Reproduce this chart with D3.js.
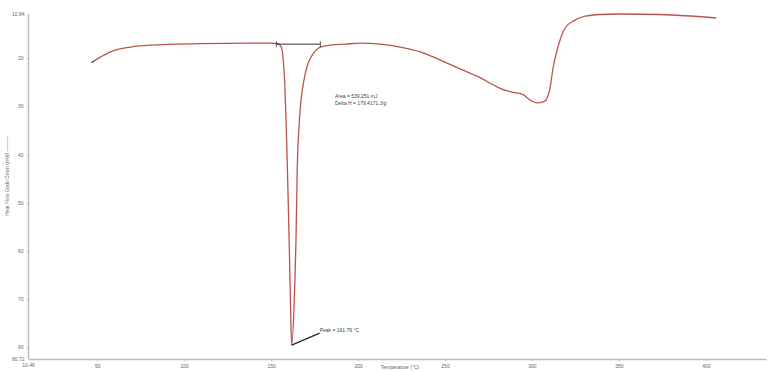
<html lang="en">
<head>
    <meta charset="utf-8">
    <title>DSC curve</title>
    <style>
        body { margin: 0; background: white; }
        svg { display: block; font-family: "Liberation Sans", Arial, sans-serif; }
        .axis path, .axis line { stroke: #bbb; }
        .axis text { fill: #666; font-size: 5px; }
    </style>
</head>
<body>
<svg id="chart" width="768" height="371"></svg>
<script src="https://d3js.org/d3.v7.min.js"></script>
<script>
    // temperature (°C) and heat flow (mW)
    const temps = [47.2, 51.8, 57.6, 69.1, 80.6, 109.3, 138, 149.5, 154.1, 155, 156, 157, 157.8, 158.6, 159.5, 160.5, 161.2, 161.79,
        163.3, 164.4, 165.0, 166.1, 166.9, 168.1, 169.6, 171.3, 173.7, 176, 178.3, 184, 192.6, 201.3, 212.8, 224.3, 235.8, 247.3,
        258.9, 270.4, 279, 284.8, 289, 294.9, 298.9, 303, 306.4, 308.1, 310.4, 312.2, 314.5, 316.2, 319.1,
        324.8, 330.6, 339.2, 350.7, 373.7, 391, 405.9];
    const heatFlow = [20.8, 19.8, 18.7, 17.7, 17.3, 17.0, 16.9, 16.9, 17.0, 17.3, 17.9, 20.5, 25.0, 33.0, 45.0, 60.0, 72.0, 79.6,
        70.3, 55.7, 43.3, 33.9, 29.8, 26.2, 23.3, 21.0, 19.4, 18.3, 17.7, 17.3, 17.1, 16.9, 17.1, 17.7, 18.7, 20.4,
        22.3, 24.1, 25.8, 26.7, 27.1, 27.6, 28.7, 29.3, 29.1, 28.7, 26.2, 21.9, 18.3, 16.2, 13.75,
        12.1, 11.3, 10.94, 10.84, 10.94, 11.26, 11.67];
    const xTicks = [50, 100, 150, 200, 250, 300, 350, 400];
    const yTicks = [20, 30, 40, 50, 60, 70, 80];
    const xStart = 10.46, xEnd = 434.6;
    const yTop = 10.84, yBottom = 80.72;
    const baseline = [[153, 17.1], [178.3, 17.1]];
    const peak = {t: 161.79, h: 79.6};
    const peakLabel = "Peak = 161.79 °C";
    const areaLabels = ["Area = 539.251 mJ", "Delta H = 179.4171 J/g"];

    const svg = d3.select("#chart");
    const x = d3.scaleLinear().domain([xStart, xEnd]).range([28.5, 766]);
    const y = d3.scaleLinear().domain([yTop, 80]).range([14, 347]);
    const bottom = 359;

    // axes
    const xAxis = svg.append("g").attr("class", "axis").attr("transform", `translate(0,${bottom})`)
        .call(d3.axisBottom(x).tickValues(xTicks).tickSize(2).tickSizeOuter(0));
    xAxis.select(".domain").attr("stroke-width", 1.5);
    svg.append("text").attr("x", x(xStart)).attr("y", bottom + 8).attr("text-anchor", "middle")
        .attr("font-size", 5).attr("fill", "#666").text(xStart.toFixed(2));

    const yAxis = svg.append("g").attr("class", "axis").attr("transform", `translate(${x(xStart)},0)`)
        .call(d3.axisLeft(y).tickValues(yTicks).tickSize(2).tickSizeOuter(0));
    yAxis.select(".domain").attr("d", `M0,${y(yTop)}V${bottom}`).attr("stroke-width", 1.5);
    svg.append("text").attr("x", x(xStart) - 4).attr("y", y(yTop) + 2).attr("text-anchor", "end")
        .attr("font-size", 5).attr("fill", "#666").text(yTop.toFixed(2));
    svg.append("text").attr("x", x(xStart) - 4).attr("y", bottom + 2).attr("text-anchor", "end")
        .attr("font-size", 5).attr("fill", "#666").text(yBottom.toFixed(2));

    // axis titles
    svg.append("text").attr("transform", "translate(9,176) rotate(-90)").attr("text-anchor", "middle")
        .attr("font-size", 5).attr("fill", "#666").text("Heat Flow Endo Down (mW) ———");
    svg.append("text").attr("x", 400).attr("y", 369).attr("text-anchor", "middle")
        .attr("font-size", 5).attr("fill", "#666").text("Temperature (°C)");

    // curve
    const pts = temps.map((t, i) => [t, heatFlow[i]]);
    svg.append("path").datum(pts)
        .attr("fill", "none").attr("stroke", "#b8554b").attr("stroke-width", 1.3)
        .attr("d", d3.line().x(d => x(d[0])).y(d => y(d[1])).curve(d3.curveMonotoneX));

    // start marker
    const s = pts[0];
    svg.append("path")
        .attr("d", `M${x(s[0]) - 2},${y(s[1]) + 0.5}l4,-2.5l-1,2.5z`)
        .attr("fill", "#444");

    // baseline
    svg.append("line")
        .attr("x1", x(baseline[0][0])).attr("y1", y(baseline[0][1]))
        .attr("x2", x(baseline[1][0])).attr("y2", y(baseline[1][1]))
        .attr("stroke", "#333").attr("stroke-width", 1);
    baseline.forEach(b => {
        svg.append("line").attr("x1", x(b[0])).attr("x2", x(b[0]))
            .attr("y1", y(b[1]) - 3).attr("y2", y(b[1]) + 3)
            .attr("stroke", "#333").attr("stroke-width", 0.8);
    });

    // peak annotation
    svg.append("line")
        .attr("x1", x(peak.t)).attr("y1", y(peak.h))
        .attr("x2", x(peak.t) + 28).attr("y2", y(peak.h) - 12)
        .attr("stroke", "#222").attr("stroke-width", 1.2);
    svg.append("text").attr("x", x(peak.t) + 28).attr("y", y(peak.h) - 13)
        .attr("font-size", 5).attr("fill", "#444").text(peakLabel);

    svg.selectAll(".area-label").data(areaLabels).join("text")
        .attr("class", "area-label")
        .attr("x", 335).attr("y", (d, i) => 98 + i * 6.5)
        .attr("font-size", 5).attr("fill", "#444").text(d => d);
</script>
</body>
</html>
